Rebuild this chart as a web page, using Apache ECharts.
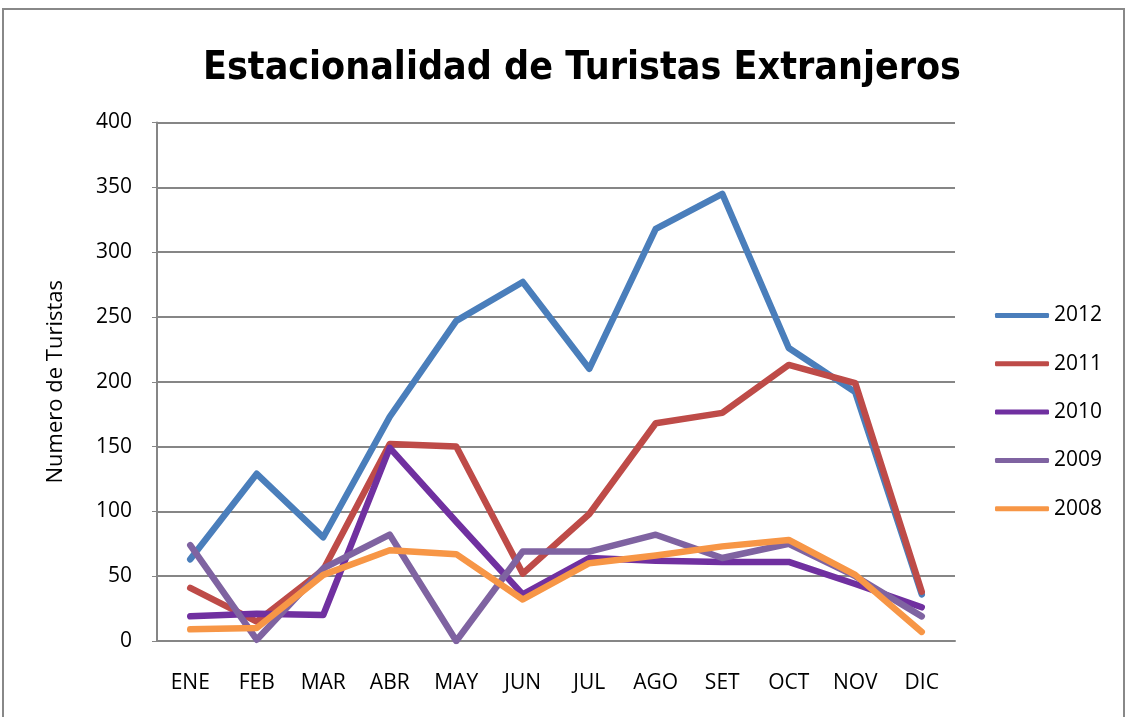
<!DOCTYPE html>
<html>
<head>
<meta charset="utf-8">
<script src="https://cdn.jsdelivr.net/npm/echarts@6/dist/echarts.min.js"></script>
<style>
  html, body { margin: 0; padding: 0; background: #fff; }
  #chart { width: 1128px; height: 717px; }
</style>
</head>
<body>
<div id="chart"></div>
<script>
var months = ['ENE', 'FEB', 'MAR', 'ABR', 'MAY', 'JUN', 'JUL', 'AGO', 'SET', 'OCT', 'NOV', 'DIC'];
var years = ['2012', '2011', '2010', '2009', '2008'];
var y2012 = [63, 129, 80, 173, 247, 277, 210, 318, 345, 226, 192, 36];
var y2011 = [41, 15, 55, 152, 150, 52, 98, 168, 176, 213, 199, 38];
var y2010 = [19, 21, 20, 149, 92, 36, 64, 62, 61, 61, 44, 26];
var y2009 = [74, 1, 56, 82, 0, 69, 69, 82, 64, 75, 50, 19];
var y2008 = [9, 10, 51, 70, 67, 32, 60, 66, 73, 78, 51, 7];
var colors = ['#4a7ebb', '#be4b48', '#7030a0', '#7f63a1', '#f79646'];

var chart = echarts.init(document.getElementById('chart'));
var labelFont = 'Open Sans, Noto Sans, sans-serif';

var series = [];
var allData = [y2012, y2011, y2010, y2009, y2008];
for (var i = 0; i < years.length; i++) {
  series.push({
    name: years[i],
    type: 'line',
    data: allData[i],
    symbol: 'none',
    lineStyle: { color: colors[i], width: 6.5, cap: 'round', join: 'round' },
    itemStyle: { color: colors[i] }
  });
}

var option = {
  animation: false,
  color: colors,
  title: {
    text: 'Estacionalidad de Turistas Extranjeros',
    left: 577,
    top: 44,
    textAlign: 'center',
    textStyle: {
      fontFamily: 'DejaVu Sans Condensed, DejaVu Sans, sans-serif',
      fontWeight: 'bold',
      fontSize: 39,
      color: '#000'
    }
  },
  legend: {
    orient: 'vertical',
    left: 995,
    top: 305,
    padding: 0,
    itemWidth: 54,
    itemHeight: 5,
    itemGap: 27.3,
    icon: 'roundRect',
    data: years,
    textStyle: { fontFamily: labelFont, fontSize: 21, lineHeight: 20, color: '#000' }
  },
  grid: {
    left: 157,
    right: 173,
    top: 122.5,
    bottom: 76
  },
  xAxis: {
    type: 'category',
    data: months,
    boundaryGap: true,
    axisLine: { lineStyle: { color: '#868686', width: 2 } },
    axisTick: { show: false },
    axisLabel: { margin: 32, fontFamily: labelFont, fontSize: 21, color: '#000' }
  },
  yAxis: {
    type: 'value',
    min: 0,
    max: 400,
    interval: 50,
    name: 'Numero de Turistas',
    nameLocation: 'middle',
    nameRotate: 90,
    nameGap: 90,
    nameTextStyle: { fontFamily: labelFont, fontSize: 22, color: '#000' },
    axisLine: { show: true, lineStyle: { color: '#868686', width: 2 } },
    axisTick: { show: true, length: 5, lineStyle: { color: '#868686' } },
    splitLine: { lineStyle: { color: '#868686', width: 2 } },
    axisLabel: { margin: 25, fontFamily: labelFont, fontSize: 21, color: '#000' }
  },
  graphic: [{
    type: 'rect',
    shape: { x: 3, y: 9, width: 1121, height: 720 },
    style: { fill: 'none', stroke: '#888', lineWidth: 2 },
    silent: true
  }],
  series: series
};
chart.setOption(option);
</script>
</body>
</html>
